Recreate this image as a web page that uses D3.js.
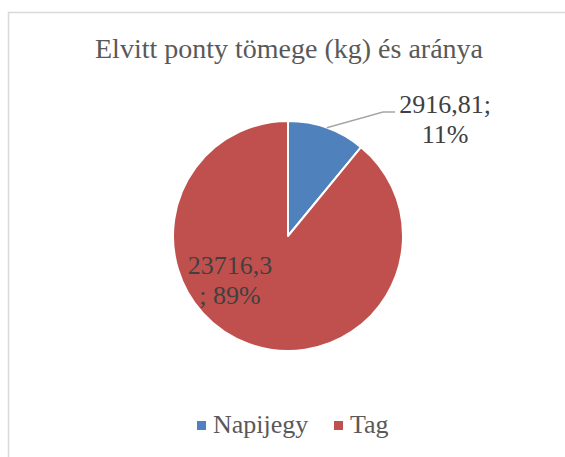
<!DOCTYPE html>
<html>
<head>
<meta charset="utf-8">
<script src="https://cdn.jsdelivr.net/npm/d3@7"></script>
<style>
  body { margin: 0; background: #fff; }
  text { font-family: "Liberation Serif", "Times New Roman", serif; }
</style>
</head>
<body>
<div id="chart"></div>
<script>
/** --- DATA --- */
const categories = ['Napijegy', 'Tag'];
const values = [2916.81, 23716.3];
const valueLabels = ['2916,81', '23716,3'];
const colors = ['#4f81bd', '#c0504d'];
const title = 'Elvitt ponty tömege (kg) és aránya';

/** --- DIMENSIONS --- */
const width = 565;
const height = 457;
const cx = 288;
const cy = 236;
const radius = 115;

const svg = d3.select('#chart').append('svg')
  .attr('width', width)
  .attr('height', height);

// chart area border (runs off right/bottom like the source)
svg.append('path')
  .attr('d', `M8.5,${height}V12.5H${width}`)
  .attr('fill', 'none')
  .attr('stroke', '#d9d9d9')
  .attr('stroke-width', 1.5);

svg.append('text')
  .attr('x', 289)
  .attr('y', 58)
  .attr('text-anchor', 'middle')
  .attr('fill', '#595959')
  .style('font-size', '28px')
  .text(title);

const color = d3.scaleOrdinal().domain(categories).range(colors);

const pie = d3.pie().sort(null).value(d => d.value);
const data = pie(categories.map((c, i) => ({ name: c, value: values[i], label: valueLabels[i] })));
const total = d3.sum(values);

const arc = d3.arc().innerRadius(0).outerRadius(radius);

const g = svg.append('g').attr('transform', `translate(${cx},${cy})`);

g.selectAll('path.slice')
  .data(data)
  .join('path')
  .attr('class', 'slice')
  .attr('d', arc)
  .attr('fill', d => color(d.data.name))
  .attr('stroke', '#fff')
  .attr('stroke-width', 2)
  .attr('stroke-linejoin', 'round');

const fmtPct = v => Math.round(v / total * 100) + '%';

// Napijegy label: outside with leader line
const d0 = data[0];
const mid0 = (d0.startAngle + d0.endAngle) / 2;
const p0 = [Math.sin(mid0) * radius, -Math.cos(mid0) * radius];
const elbow = [95, -124];
g.append('polyline')
  .attr('points', [p0, elbow, [elbow[0] + 12, elbow[1]]].map(p => p.join(',')).join(' '))
  .attr('fill', 'none')
  .attr('stroke', '#a6a6a6')
  .attr('stroke-width', 1.5);

const t0 = g.append('text')
  .attr('text-anchor', 'middle')
  .attr('fill', '#404040')
  .style('font-size', '26px');
t0.append('tspan').attr('x', 157).attr('y', -123).text(d0.data.label + ';');
t0.append('tspan').attr('x', 157).attr('y', -93).text(fmtPct(d0.data.value));

// Tag label: inside
const d1 = data[1];
const t1 = g.append('text')
  .attr('text-anchor', 'middle')
  .attr('fill', '#404040')
  .style('font-size', '26px');
t1.append('tspan').attr('x', -58).attr('y', 38).text(d1.data.label);
t1.append('tspan').attr('x', -58).attr('y', 68).text('; ' + fmtPct(d1.data.value));

/** --- LEGEND --- */
const legend = svg.append('g');
const legendX = [197, 334];
const items = legend.selectAll('g')
  .data(categories)
  .join('g')
  .attr('transform', (d, i) => `translate(${legendX[i]},421)`);
items.append('rect')
  .attr('width', 9)
  .attr('height', 9)
  .attr('fill', d => color(d));
items.append('text')
  .attr('x', 16)
  .attr('y', 12)
  .attr('fill', '#595959')
  .style('font-size', '26px')
  .text(d => d);
</script>
</body>
</html>
